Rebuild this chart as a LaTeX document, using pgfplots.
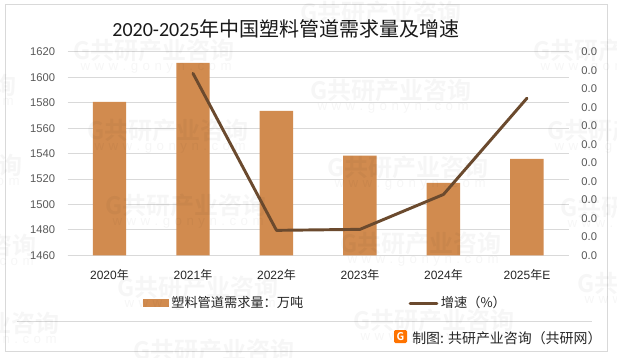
\documentclass[border=0pt]{standalone}
\usepackage{fontspec}
\usepackage{pgfplots}
\pgfplotsset{compat=1.18}
\setmainfont{Carlito}
\newfontfamily\cjk{Noto Sans CJK SC}
\newfontfamily\cjkb{Noto Sans CJK SC Bold}
\newfontfamily\lib{Liberation Sans}
\definecolor{barc}{HTML}{D18B4F}
\definecolor{linec}{HTML}{6B4A2E}
\definecolor{gridc}{HTML}{D9D9D9}
\definecolor{tickc}{HTML}{595959}
\newcommand{\wm}[2]{%
 \begin{scope}[shift={(#1,357-#2)},rotate=10]
  \node[anchor=west,inner sep=0pt,text=black,opacity=.035] at (0,0) {\cjkb\fontsize{18pt}{20pt}\selectfont G共研产业咨询};
  \node[anchor=west,inner sep=0pt,text=black,opacity=.035] at (4,-19) {\lib\fontsize{10pt}{12pt}\selectfont w\,\,w\,\,w\,\,.\,\,g\,\,o\,\,n\,\,y\,\,n\,\,.\,\,c\,\,o\,\,m};
 \end{scope}}
\begin{document}
\begin{tikzpicture}[x=0.75pt,y=0.75pt]
\useasboundingbox (0,0) rectangle (617,357);
\fill[white] (0,0) rectangle (617,357);
\draw[gridc,line width=0.75pt] (5.3,5.3) rectangle (607.7,352.5);
\draw[gridc,line width=0.75pt] (17,35.7) -- (591.7,35.7);
\begin{axis}[
  at={(50.8pt,76.3pt)},anchor=south west,
  scale only axis,width=375.75pt,height=152.5pt,
  xmin=-0.5,xmax=5.5,ymin=1460,ymax=1620,
  ytick={1460,1480,...,1620},
  xtick={0,1,2,3,4,5},
  xticklabels={2020{\cjk 年},2021{\cjk 年},2022{\cjk 年},2023{\cjk 年},2024{\cjk 年},2025{\cjk 年}E},
  ymajorgrids,grid style={gridc,line width=0.75pt},
  axis line style={draw=none},
  axis x line*=bottom,axis y line*=left,
  major tick length=0pt,
  x axis line style={draw=gridc,line width=0.75pt,-},
  y axis line style={draw=none},
  /pgf/number format/assume math mode=true,
  /pgf/number format/1000 sep={},
  y tick label style={font=\lib\fontsize{8.4pt}{10pt}\selectfont,text=tickc,xshift=-6pt},
  x tick label style={font=\lib\fontsize{9pt}{11pt}\selectfont,text=black!85,yshift=-7pt},
]
\addplot[ybar,bar width=25.1pt,fill=barc,draw=none,bar shift=0pt] coordinates {
 (0,1580.7) (1,1611.4) (2,1573.6) (3,1538.4) (4,1516.9) (5,1535.8)};
\end{axis}
\begin{axis}[
  at={(50.8pt,76.3pt)},anchor=south west,
  scale only axis,width=375.75pt,height=152.5pt,
  xmin=-0.5,xmax=5.5,ymin=-0.03,ymax=0.025,
  ytick={-0.03,-0.025,-0.02,-0.015,-0.01,-0.005,0,0.005,0.01,0.015,0.02,0.025},
  scaled y ticks=false,
  yticklabel={0.0},
  xtick=\empty,
  axis x line=none,axis y line*=right,
  y axis line style={draw=none},
  major tick length=0pt,
  /pgf/number format/assume math mode=true,
  y tick label style={font=\lib\fontsize{8.4pt}{10pt}\selectfont,text=tickc,xshift=6pt},
  legend columns=2,
  legend style={at={(axis description cs:0.15,-0.235)},anchor=west,draw=none,fill=none,inner sep=0pt,
    font=\cjk\fontsize{9.9pt}{12pt}\selectfont,text=black!85,
    /tikz/every even column/.append style={column sep=77pt}},
]
\addlegendimage{legend image code/.code={\fill[barc] (-3pt,-2.6pt) rectangle (15.75pt,2.6pt);}}
\addlegendentry{塑料管道需求量：万吨}
\addplot[linec,line width=2.2pt,line cap=round,line join=round,
   legend image code/.code={\draw[linec,line width=2.2pt,line cap=round] (-2pt,0pt) -- (18pt,0pt);}] coordinates {
 (1,0.0192) (2,-0.02326) (3,-0.02299) (4,-0.01355) (5,0.01249)};
\addlegendentry{增速（\%）}
\end{axis}
\node[anchor=center,inner sep=0pt,text=black!90] at (286,357-28.5) {\fontsize{15pt}{18pt}\selectfont 2020-2025{\cjk 年中国塑料管道需求量及增速}};
\fill[orange!90!red,rounded corners=1pt] (394,357-343) rectangle (407,357-330);
\node[inner sep=0pt,text=white] at (400.5,357-336.5) {\cjkb\fontsize{8pt}{8pt}\selectfont G};
\node[anchor=west,inner sep=0pt,text=black!85] at (412,357-338) {\cjk\fontsize{10.45pt}{12pt}\selectfont 制图: 共研产业咨询（共研网）};
\begin{scope}
\clip (0,0) rectangle (617,357);
\wm{73}{50}\wm{87}{130}\wm{310}{90}\wm{533}{50}\wm{547}{130}\wm{327}{167}
\wm{117}{287}\wm{105}{205}\wm{340}{243}\wm{353}{320}\wm{133}{350}\wm{560}{207}\wm{577}{283}
\wm{-145}{85}\wm{-139}{165}\wm{-125}{245}\wm{-102}{323}\wm{300}{12}
\end{scope}
\end{tikzpicture}
\end{document}
